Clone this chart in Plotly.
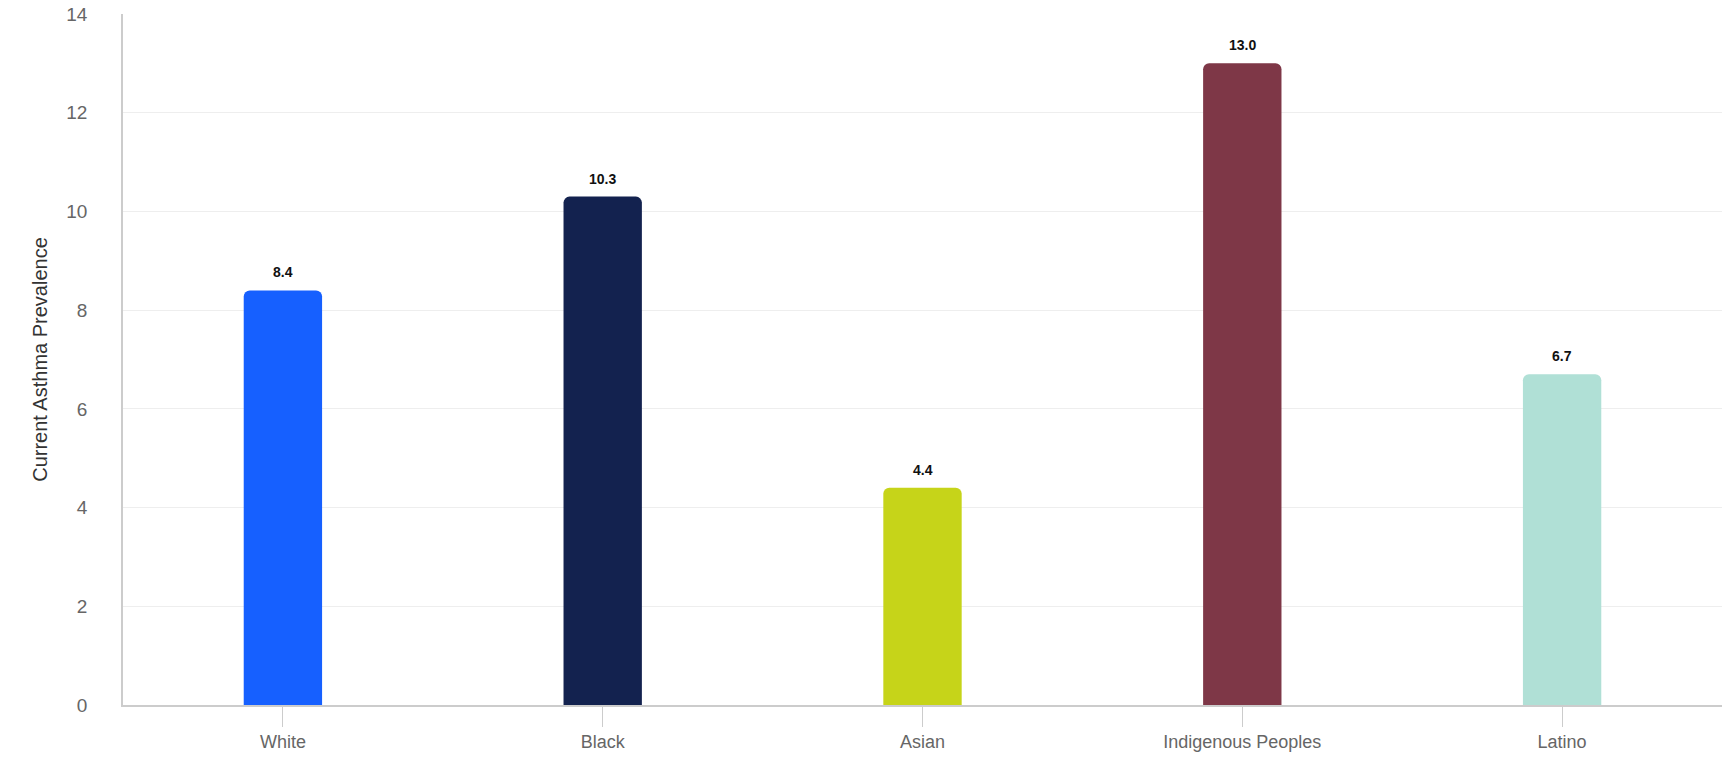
import plotly.graph_objects as go

categories = ["White", "Black", "Asian", "Indigenous Peoples", "Latino"]
values = [8.4, 10.3, 4.4, 13.0, 6.7]
labels = ["8.4", "10.3", "4.4", "13.0", "6.7"]
colors = ["#1660FF", "#13224F", "#C6D419", "#7E3747", "#B0E0D6"]
y_ticks = [0, 2, 4, 6, 8, 10, 12, 14]

fig = go.Figure()
fig.add_trace(go.Bar(
    x=categories, y=values,
    marker=dict(color=colors, cornerradius=6, line=dict(width=0)),
    cliponaxis=False, hoverinfo="skip",
))
for c, v, t in zip(categories, values, labels):
    fig.add_annotation(x=c, y=v, text=t, showarrow=False, yanchor="bottom", yshift=8,
                       font=dict(family="Liberation Sans", size=14, color="#111111", weight="bold"))

fig.update_layout(
    width=1722, height=757,
    margin=dict(l=123, r=0, t=14, b=52),
    paper_bgcolor="white", plot_bgcolor="white",
    bargap=0.755, showlegend=False,
    font=dict(family="Liberation Sans", color="#666666"),
)
fig.update_xaxes(
    showline=True, linecolor="#cccccc", linewidth=1.5,
    ticks="outside", ticklen=20, tickcolor="#cccccc", tickwidth=1,
    tickfont=dict(size=18, color="#666666"), showgrid=False,
)
fig.update_yaxes(
    range=[0, 14], tickvals=y_ticks, showline=True, linecolor="#cccccc", linewidth=1.5,
    gridcolor="#eeeeee", gridwidth=1, zeroline=False,
    ticks="outside", ticklen=30, tickcolor="rgba(0,0,0,0)",
    tickfont=dict(size=19, color="#666666"),
    title=dict(text="Current Asthma Prevalence", font=dict(size=20, color="#333333"), standoff=13),
)
fig.write_html("out.html")
